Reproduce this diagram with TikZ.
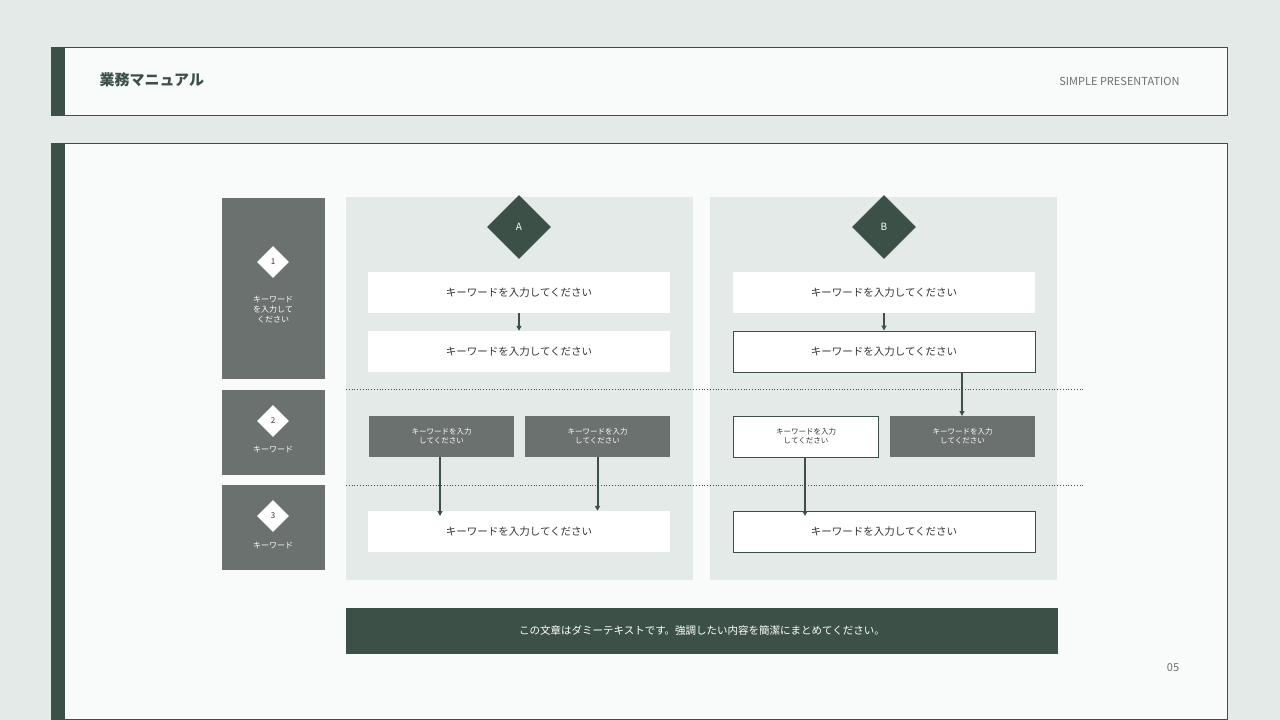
\documentclass[tikz,border=0pt]{standalone}
\usepackage{fontspec}
\setmainfont{Noto Sans CJK JP}
\usetikzlibrary{shapes.geometric,arrows.meta}
\definecolor{bgc}{HTML}{E3EAE7}
\definecolor{dk}{HTML}{3D5048}
\definecolor{gr}{HTML}{6B716E}
\definecolor{pn}{HTML}{E4EAE7}
\definecolor{pg}{HTML}{F9FBFA}
\definecolor{tx}{HTML}{333333}
\tikzset{
 wbox/.style={fill=white,draw=none,minimum width=302pt,minimum height=41pt,font=\fontsize{10.5pt}{12pt}\selectfont,text=tx},
 obox/.style={wbox,draw=dk,line width=1pt},
 sbox/.style={fill=gr,text=white,minimum width=145pt,minimum height=41pt,font=\fontsize{7.5pt}{9pt}\selectfont,align=center},
 sobox/.style={sbox,fill=white,draw=dk,line width=1pt,text=tx},
 lbox/.style={fill=gr,minimum width=103pt,anchor=north west,inner sep=0pt},
 wd/.style={diamond,fill=white,minimum width=32pt,minimum height=32pt,inner sep=0pt,font=\fontsize{8pt}{9pt}\selectfont,text=tx},
 dd/.style={diamond,fill=dk,minimum width=64pt,minimum height=64pt,inner sep=0pt,font=\fontsize{10pt}{12pt}\selectfont,text=white},
 ar/.style={draw=dk,line width=2pt,-{Triangle[length=5pt,width=5pt]}},
 ltxt/.style={text=white,font=\fontsize{8pt}{10pt}\selectfont,align=center}
}
\begin{document}
\begin{tikzpicture}[x=1pt,y=-1pt]
\useasboundingbox (0,0) rectangle (1280,720);
\fill[bgc] (0,0) rectangle (1280,720);
% header
\draw[fill=pg,draw=dk,line width=1pt] (51,47) rectangle (1227,115);
\fill[dk] (51,47) rectangle (65,115);
\node[anchor=west,font=\bfseries\fontsize{15pt}{18pt}\selectfont,text=dk] (title) at (96,80) {業務マニュアル};
\node[anchor=east,font=\fontsize{11pt}{13pt}\selectfont,text=gr] (sub) at (1183,81) {SIMPLE PRESENTATION};
% main
\draw[fill=pg,draw=dk,line width=1pt] (51,143) rectangle (1227,719);
\fill[dk] (51,143) rectangle (65,720);
% left column
\node[lbox,minimum height=181pt] (l1) at (222,198) {};
\node[lbox,minimum height=85pt] (l2) at (222,390) {};
\node[lbox,minimum height=85pt] (l3) at (222,485) {};
\node[wd] (d1) at (273,262) {1};
\node[wd] (d2) at (273,421) {2};
\node[wd] (d3) at (273,516) {3};
\node[ltxt] (t1) at (273,310) {キーワード\\を入力して\\ください};
\node[ltxt] (t2) at (273,450) {キーワード};
\node[ltxt] (t3) at (273,546) {キーワード};
% panels
\fill[pn] (346,197) rectangle (693,580);
\fill[pn] (710,197) rectangle (1057,580);
\draw[dk,dotted,line width=0.8pt] (346,389) -- (1085,389);
\draw[dk,dotted,line width=0.8pt] (346,485) -- (1085,485);
\node[dd] (da) at (519,227) {A};
\node[dd] (db) at (884,227) {B};
% panel A
\node[wbox] (a1) at (519,292.5) {キーワードを入力してください};
\node[wbox] (a2) at (519,351.5) {キーワードを入力してください};
\node[sbox] (a3) at (441.5,436.5) {キーワードを入力\\してください};
\node[sbox] (a4) at (597.5,436.5) {キーワードを入力\\してください};
\node[wbox] (a5) at (519,531.5) {キーワードを入力してください};
\draw[ar] (a1.south) -- (a2.north);
\draw[ar] (440,457) -- (440,516);
\draw[ar] (a4.south) -- (a4.south |- a5.north);
% panel B
\node[wbox] (b1) at (884,292.5) {キーワードを入力してください};
\node[obox] (b2) at (884,351.5) {キーワードを入力してください};
\node[sobox] (b3) at (806,436.5) {キーワードを入力\\してください};
\node[sbox] (b4) at (962.5,436.5) {キーワードを入力\\してください};
\node[obox] (b5) at (884,531.5) {キーワードを入力してください};
\draw[ar] (b1.south) -- (b2.north);
\draw[ar] (962,372) -- (962,416);
\draw[ar] (805,457) -- (805,516);
% footer
\node[fill=dk,text=white,minimum width=712pt,minimum height=46pt,font=\fontsize{10.5pt}{12pt}\selectfont] (foot) at (702,631) {この文章はダミーテキストです。強調したい内容を簡潔にまとめてください。};
\node[text=gr,font=\fontsize{11pt}{13pt}\selectfont] (pgn) at (1173,668) {05};
\end{tikzpicture}
\end{document}
